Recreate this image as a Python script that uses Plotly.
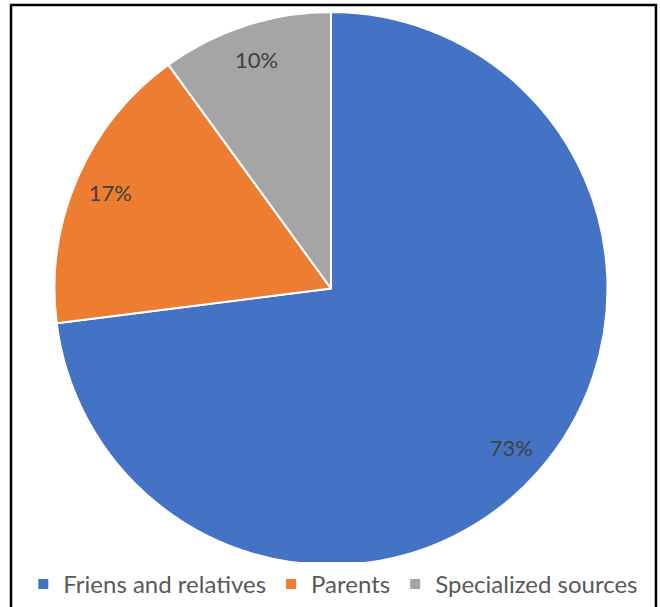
import plotly.graph_objects as go

labels = ["Friens and relatives", "Parents", "Specialized sources"]
values = [73, 17, 10]
colors = ["#4472C4", "#ED7D31", "#A5A5A5"]

FONT = "Lato, 'Open Sans', sans-serif"

fig = go.Figure()
# filled pie (no text)
fig.add_trace(go.Pie(
    labels=labels, values=values, sort=False, direction="clockwise", rotation=0,
    marker=dict(colors=colors, line=dict(color="white", width=2)),
    textinfo="none", hoverinfo="label+percent", showlegend=True,
    domain=dict(x=[0.003, 1], y=[0, 1]),
))
# transparent ring used only to place percentage labels near the rim
fig.add_trace(go.Pie(
    labels=labels, values=values, sort=False, direction="clockwise", rotation=0,
    hole=0.74,
    marker=dict(colors=["rgba(0,0,0,0)"] * 3, line=dict(width=0)),
    textinfo="percent", textposition="inside", insidetextorientation="horizontal",
    textfont=dict(family=FONT, size=22, color="#404040"),
    hoverinfo="skip", showlegend=False,
    domain=dict(x=[0.003, 1], y=[0, 1]),
))

fig.update_layout(
    width=660, height=607,
    margin=dict(l=0, r=0, t=12, b=41),
    paper_bgcolor="white", plot_bgcolor="white",
    legend=dict(orientation="h", x=0.505, xanchor="center", y=-0.036, yanchor="middle",
                font=dict(family=FONT, size=24, color="#595959"),
                itemsizing="constant", traceorder="normal"),
    shapes=[dict(type="rect", xref="paper", yref="paper",
                 x0=0.0167, x1=0.9939, y0=-0.1, y1=1.0126,
                 line=dict(color="black", width=2.5), fillcolor="rgba(0,0,0,0)", layer="below")],
)

fig.write_html("out.html", config={"displayModeBar": False},
               post_script="document.body.style.margin='0';")
